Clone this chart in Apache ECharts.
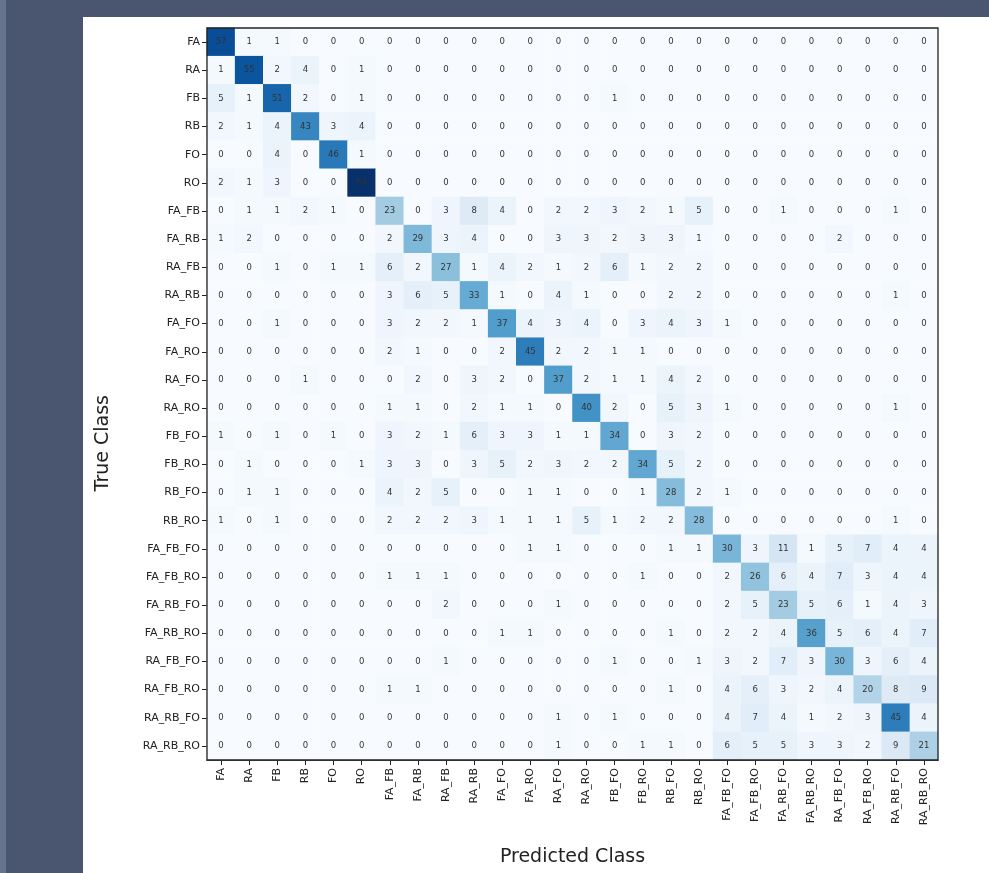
<!DOCTYPE html>
<html>
<head>
<meta charset="utf-8">
<script src="https://cdn.jsdelivr.net/npm/echarts@6/dist/echarts.min.js"></script>
<style>
  html, body { margin: 0; padding: 0; background: #4a5570; }
  #chart { width: 989px; height: 873px; }
</style>
</head>
<body>
<div id="chart"></div>
<script>
// Class labels (shared by predicted and true axes)
const classes = [
  'FA', 'RA', 'FB', 'RB', 'FO', 'RO',
  'FA_FB', 'FA_RB', 'RA_FB', 'RA_RB', 'FA_FO', 'FA_RO', 'RA_FO', 'RA_RO',
  'FB_FO', 'FB_RO', 'RB_FO', 'RB_RO',
  'FA_FB_FO', 'FA_FB_RO', 'FA_RB_FO', 'FA_RB_RO',
  'RA_FB_FO', 'RA_FB_RO', 'RA_RB_FO', 'RA_RB_RO'
];

// Confusion matrix rows: true class, columns: predicted class
const rowFA      = [57, 1, 1, 0, 0, 0, 0, 0, 0, 0, 0, 0, 0, 0, 0, 0, 0, 0, 0, 0, 0, 0, 0, 0, 0, 0];
const rowRA      = [1, 55, 2, 4, 0, 1, 0, 0, 0, 0, 0, 0, 0, 0, 0, 0, 0, 0, 0, 0, 0, 0, 0, 0, 0, 0];
const rowFB      = [5, 1, 51, 2, 0, 1, 0, 0, 0, 0, 0, 0, 0, 0, 1, 0, 0, 0, 0, 0, 0, 0, 0, 0, 0, 0];
const rowRB      = [2, 1, 4, 43, 3, 4, 0, 0, 0, 0, 0, 0, 0, 0, 0, 0, 0, 0, 0, 0, 0, 0, 0, 0, 0, 0];
const rowFO      = [0, 0, 4, 0, 46, 1, 0, 0, 0, 0, 0, 0, 0, 0, 0, 0, 0, 0, 0, 0, 0, 0, 0, 0, 0, 0];
const rowRO      = [2, 1, 3, 0, 0, 64, 0, 0, 0, 0, 0, 0, 0, 0, 0, 0, 0, 0, 0, 0, 0, 0, 0, 0, 0, 0];
const rowFA_FB   = [0, 1, 1, 2, 1, 0, 23, 0, 3, 8, 4, 0, 2, 2, 3, 2, 1, 5, 0, 0, 1, 0, 0, 0, 1, 0];
const rowFA_RB   = [1, 2, 0, 0, 0, 0, 2, 29, 3, 4, 0, 0, 3, 3, 2, 3, 3, 1, 0, 0, 0, 0, 2, 0, 0, 0];
const rowRA_FB   = [0, 0, 1, 0, 1, 1, 6, 2, 27, 1, 4, 2, 1, 2, 6, 1, 2, 2, 0, 0, 0, 0, 0, 0, 0, 0];
const rowRA_RB   = [0, 0, 0, 0, 0, 0, 3, 6, 5, 33, 1, 0, 4, 1, 0, 0, 2, 2, 0, 0, 0, 0, 0, 0, 1, 0];
const rowFA_FO   = [0, 0, 1, 0, 0, 0, 3, 2, 2, 1, 37, 4, 3, 4, 0, 3, 4, 3, 1, 0, 0, 0, 0, 0, 0, 0];
const rowFA_RO   = [0, 0, 0, 0, 0, 0, 2, 1, 0, 0, 2, 45, 2, 2, 1, 1, 0, 0, 0, 0, 0, 0, 0, 0, 0, 0];
const rowRA_FO   = [0, 0, 0, 1, 0, 0, 0, 2, 0, 3, 2, 0, 37, 2, 1, 1, 4, 2, 0, 0, 0, 0, 0, 0, 0, 0];
const rowRA_RO   = [0, 0, 0, 0, 0, 0, 1, 1, 0, 2, 1, 1, 0, 40, 2, 0, 5, 3, 1, 0, 0, 0, 0, 0, 1, 0];
const rowFB_FO   = [1, 0, 1, 0, 1, 0, 3, 2, 1, 6, 3, 3, 1, 1, 34, 0, 3, 2, 0, 0, 0, 0, 0, 0, 0, 0];
const rowFB_RO   = [0, 1, 0, 0, 0, 1, 3, 3, 0, 3, 5, 2, 3, 2, 2, 34, 5, 2, 0, 0, 0, 0, 0, 0, 0, 0];
const rowRB_FO   = [0, 1, 1, 0, 0, 0, 4, 2, 5, 0, 0, 1, 1, 0, 0, 1, 28, 2, 1, 0, 0, 0, 0, 0, 0, 0];
const rowRB_RO   = [1, 0, 1, 0, 0, 0, 2, 2, 2, 3, 1, 1, 1, 5, 1, 2, 2, 28, 0, 0, 0, 0, 0, 0, 1, 0];
const rowFA_FB_FO = [0, 0, 0, 0, 0, 0, 0, 0, 0, 0, 0, 1, 1, 0, 0, 0, 1, 1, 30, 3, 11, 1, 5, 7, 4, 4];
const rowFA_FB_RO = [0, 0, 0, 0, 0, 0, 1, 1, 1, 0, 0, 0, 0, 0, 0, 1, 0, 0, 2, 26, 6, 4, 7, 3, 4, 4];
const rowFA_RB_FO = [0, 0, 0, 0, 0, 0, 0, 0, 2, 0, 0, 0, 1, 0, 0, 0, 0, 0, 2, 5, 23, 5, 6, 1, 4, 3];
const rowFA_RB_RO = [0, 0, 0, 0, 0, 0, 0, 0, 0, 0, 1, 1, 0, 0, 0, 0, 1, 0, 2, 2, 4, 36, 5, 6, 4, 7];
const rowRA_FB_FO = [0, 0, 0, 0, 0, 0, 0, 0, 1, 0, 0, 0, 0, 0, 1, 0, 0, 1, 3, 2, 7, 3, 30, 3, 6, 4];
const rowRA_FB_RO = [0, 0, 0, 0, 0, 0, 1, 1, 0, 0, 0, 0, 0, 0, 0, 0, 1, 0, 4, 6, 3, 2, 4, 20, 8, 9];
const rowRA_RB_FO = [0, 0, 0, 0, 0, 0, 0, 0, 0, 0, 0, 0, 1, 0, 1, 0, 0, 0, 4, 7, 4, 1, 2, 3, 45, 4];
const rowRA_RB_RO = [0, 0, 0, 0, 0, 0, 0, 0, 0, 0, 0, 0, 1, 0, 0, 1, 1, 0, 6, 5, 5, 3, 3, 2, 9, 21];

const matrix = [
  rowFA, rowRA, rowFB, rowRB, rowFO, rowRO,
  rowFA_FB, rowFA_RB, rowRA_FB, rowRA_RB, rowFA_FO, rowFA_RO, rowRA_FO, rowRA_RO,
  rowFB_FO, rowFB_RO, rowRB_FO, rowRB_RO,
  rowFA_FB_FO, rowFA_FB_RO, rowFA_RB_FO, rowFA_RB_RO,
  rowRA_FB_FO, rowRA_FB_RO, rowRA_RB_FO, rowRA_RB_RO
];

// Sequential blue palette
const blues = ['#f7fbff', '#deebf7', '#c6dbef', '#9ecae1', '#6baed6', '#4292c6', '#2171b5', '#08519c', '#08306b'];

const cells = [];
let maxVal = 0;
matrix.forEach((row, r) => {
  row.forEach((v, c) => {
    cells.push([c, r, v]);
    if (v > maxVal) maxVal = v;
  });
});

const chart = echarts.init(document.getElementById('chart'), null, { renderer: 'canvas' });

const GRID = { left: 207, top: 28, width: 731, height: 732 };

chart.setOption({
  backgroundColor: '#4a5570',
  animation: false,
  textStyle: { fontFamily: 'DejaVu Sans' },
  graphic: [
    { type: 'rect', shape: { x: 0, y: 0, width: 6, height: 873 }, style: { fill: '#66738d' }, z: -10 },
    { type: 'rect', shape: { x: 83, y: 17, width: 906, height: 856 }, style: { fill: '#ffffff' }, z: -10 },
    // frame drawn over the cells
    {
      type: 'rect', z: 100, silent: true,
      shape: { x: GRID.left, y: GRID.top, width: GRID.width, height: GRID.height },
      style: { fill: 'none', stroke: '#222', lineWidth: 1.3 }
    },
    {
      type: 'text', left: 94, top: 395, rotation: Math.PI / 2, z: 10,
      style: { text: 'True Class', fontSize: 19, fill: '#222', fontFamily: 'DejaVu Sans', textAlign: 'center', textVerticalAlign: 'middle' }
    }
  ],
  grid: {
    left: GRID.left, top: GRID.top, width: GRID.width, height: GRID.height,
    show: false
  },
  xAxis: {
    type: 'category',
    data: classes,
    position: 'bottom',
    name: 'Predicted Class',
    nameLocation: 'middle',
    nameGap: 88,
    nameTextStyle: { fontSize: 19, color: '#222', fontFamily: 'DejaVu Sans' },
    axisLine: { show: true, lineStyle: { color: '#222', width: 1.2 } },
    axisTick: { show: true, alignWithLabel: true, length: 5, lineStyle: { color: '#222' } },
    axisLabel: { rotate: 90, fontSize: 11, color: '#222', margin: 8, interval: 0 },
    splitLine: { show: false },
    splitArea: { show: false }
  },
  yAxis: {
    type: 'category',
    data: classes,
    inverse: true,
    axisLine: { show: true, lineStyle: { color: '#222', width: 1.2 } },
    axisTick: { show: true, alignWithLabel: true, length: 5, lineStyle: { color: '#222' } },
    axisLabel: { fontSize: 11, color: '#222', margin: 7, interval: 0 },
    splitLine: { show: false },
    splitArea: { show: false }
  },
  visualMap: {
    show: false,
    min: 0,
    max: maxVal,
    dimension: 2,
    inRange: { color: blues }
  },
  series: [{
    type: 'heatmap',
    data: cells,
    label: {
      show: true,
      fontSize: 8.5,
      color: '#333',
      fontFamily: 'DejaVu Sans'
    },
    itemStyle: { borderWidth: 0 },
    emphasis: { disabled: true }
  }]
});
</script>
</body>
</html>
